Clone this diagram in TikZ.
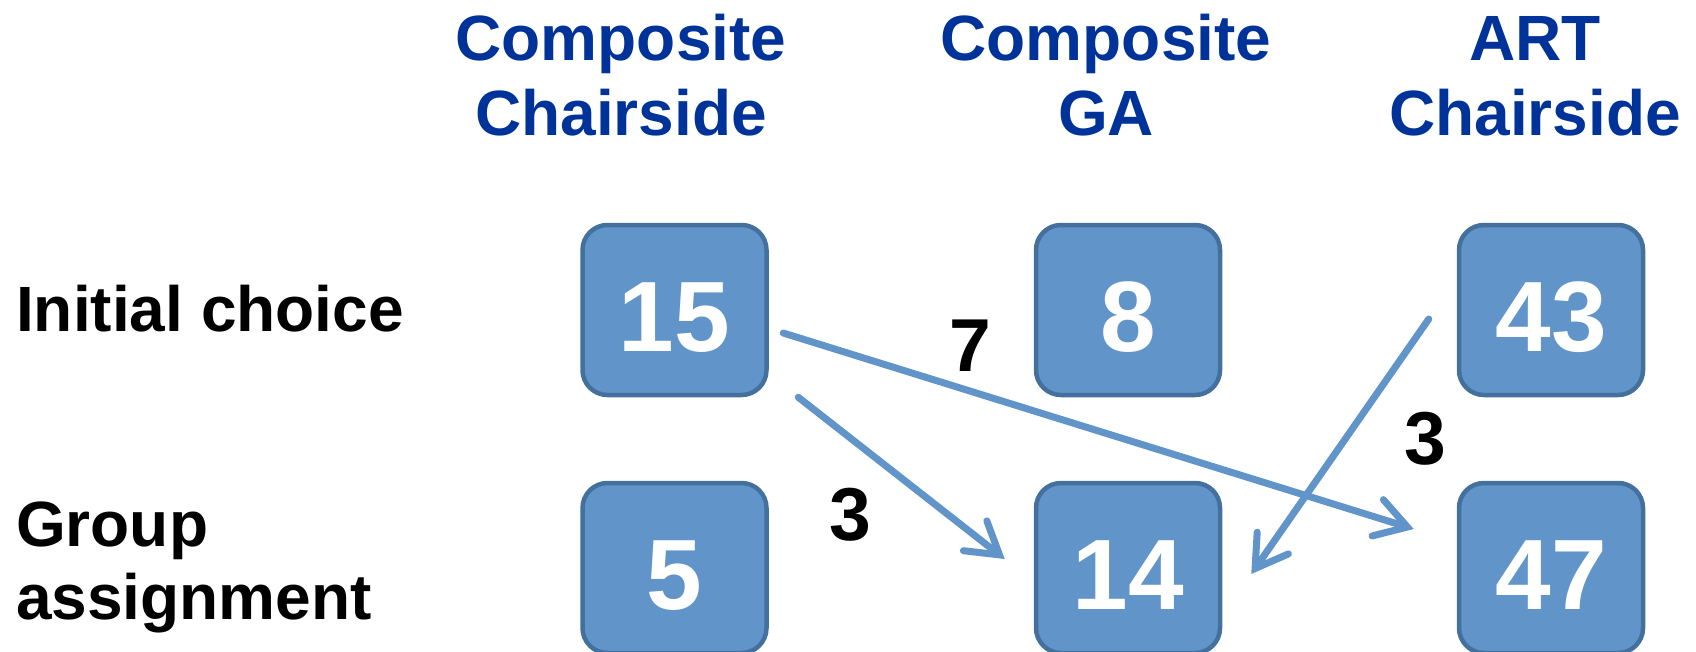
\documentclass[tikz,border=0pt]{standalone}
\usepackage{fontspec}
\setmainfont{Liberation Sans}
\usepackage{xcolor}
\usetikzlibrary{arrows.meta,calc}

\definecolor{boxfill}{RGB}{97,149,201}
\definecolor{boxline}{RGB}{68,112,158}
\definecolor{headblue}{RGB}{0,51,153}

\begin{document}
\begin{tikzpicture}[
			x=1pt,
			y=-1pt,
			line cap=round,
			line join=round,
			countbox/.style={
				draw=boxline,
				line width=4.5pt,
				fill=boxfill,
				rounded corners=25pt,
				minimum width=184pt,
				minimum height=170pt,
				inner sep=0pt,
				text height=82pt,
				text depth=0pt,
				text=white,
				font=\fontsize{100}{110}\selectfont\bfseries
			},
			colhead/.style={
				text=headblue,
				align=center,
				anchor=base,
				inner sep=0pt,
				font=\fontsize{64}{75}\selectfont\bfseries
			},
			rowhead/.style={
				align=left,
				anchor=base west,
				inner sep=0pt,
				font=\fontsize{64}{73}\selectfont\bfseries
			},
			movecount/.style={
				inner sep=0pt,
				font=\fontsize{75}{80}\selectfont\bfseries
			},
			flow/.style={
				draw=boxfill,
				line width=7pt,
				line join=miter,
				-{Straight Barb[length=31pt,width=38pt,line cap=round]}
			}
			]
			
			\useasboundingbox (0,0) rectangle (1696,651);
			
			% column heads (base = last line)
			\node[colhead] (hcc) at (621,135) {Composite\\Chairside};
			\node[colhead] (hcg) at (1106,135) {Composite\\GA};
			\node[colhead] (hac) at (1535,135) {ART\\Chairside};
			
			% row heads
			\node[rowhead] (hinit) at (16,331) {Initial choice};
			\node[rowhead] (hgroup) at (16,619) {Group\\assignment};
			
			% boxes
			\node[countbox] (b15) at (674.5,310) {15};
			\node[countbox] (b8) at (1128,310) {8};
			\node[countbox] (b43) at (1551,310) {43};
			
			\node[countbox] (b5) at (674.5,568) {5};
			\node[countbox] (b14) at (1128,568) {14};
			\node[countbox] (b47) at (1551,568) {47};
			
			% moves
			\draw[flow] ($(b15.east)+(14.5,23)$) -- ($(b47.west)+(-43,-39)$);
			\draw[flow] ($(b15.south east)+(29.5,0)$) -- ($(b14.west)+(-29,-9)$);
			\draw[flow] ($(b43.west)+(-28,9)$) -- ($(b14.east)+(29,6)$);
			
			\node[movecount] (m7) at (970,346) {7};
			\node[movecount] (m3a) at (850,515) {3};
			\node[movecount] (m3b) at (1425,439) {3};
			
		\end{tikzpicture}
\end{document}
